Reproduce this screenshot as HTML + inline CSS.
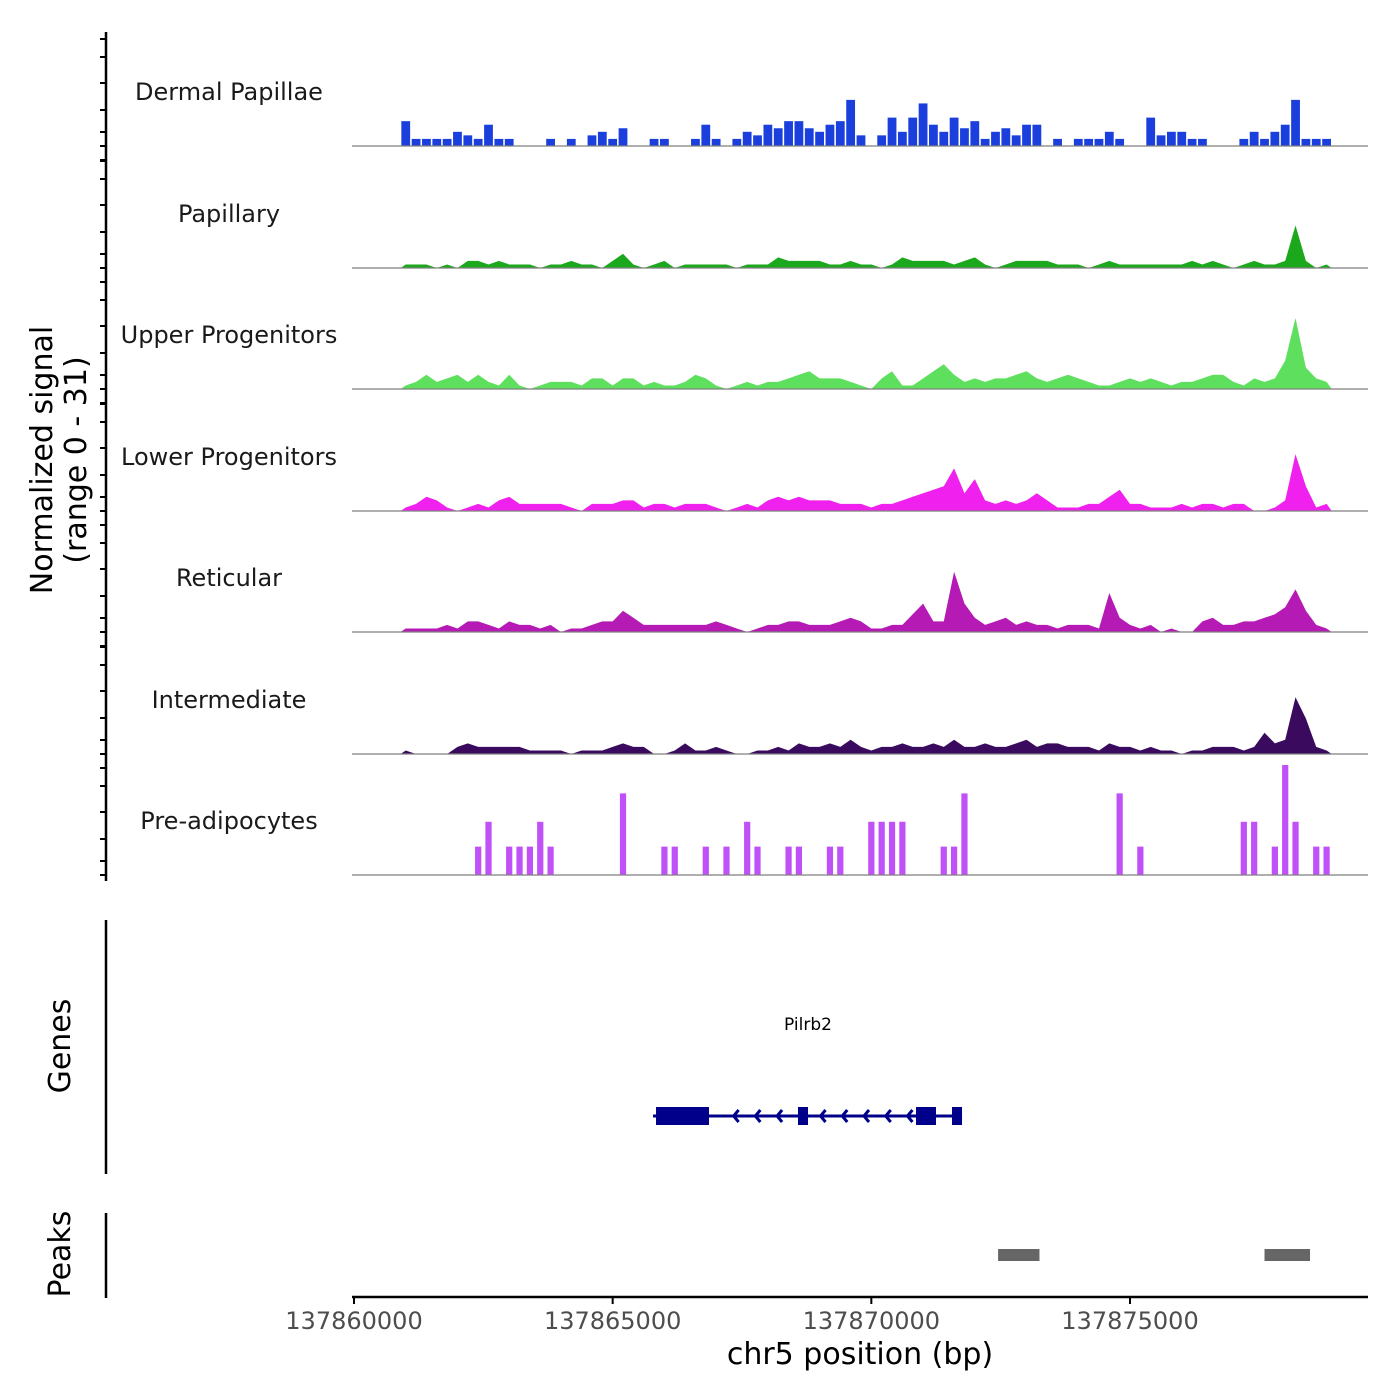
<!DOCTYPE html>
<html><head><meta charset="utf-8"><style>
body{margin:0;background:#fff}
svg{display:block;font-family:"DejaVu Sans","Liberation Sans",sans-serif}
</style></head><body>
<svg id="chart" width="1400" height="1400" viewBox="0 0 1400 1400"></svg>
<script>
const trackNames=["Dermal Papillae","Papillary","Upper Progenitors","Lower Progenitors","Reticular","Intermediate","Pre-adipocytes"];
const trackColors=["#1a3fdc","#1ca81c","#5ee05e","#f020ee","#b51ab5","#3a0a5e","#c050f8"];
const binStart=137860900;
const binSize=200;
const dermal=[7,2,2,2,2,4,3,2,6,2,2,0,0,0,2,0,2,0,3,4,2,5,0,0,2,2,0,0,2,6,2,0,2,4,3,6,5,7,7,5,4,6,7,13,3,0,3,8,4,8,12,6,4,8,5,7,2,4,5,3,6,6,0,2,0,2,2,2,4,2,0,0,8,3,4,4,2,2,0,0,0,2,4,2,4,6,13,2,2,2];
const papillary=[1,1,1,0,1,0,2,2,1,2,1,1,1,0,1,1,2,1,1,0,2,4,1,0,1,2,0,1,1,1,1,1,0,1,1,1,3,2,2,2,2,1,1,2,1,1,0,1,3,2,2,2,2,1,2,3,1,0,1,2,2,2,2,1,1,1,0,1,2,1,1,1,1,1,1,1,2,1,2,1,0,1,2,1,1,2,12,2,0,1];
const upper=[1,2,4,2,3,4,2,4,2,1,4,1,0,1,2,2,2,1,3,3,1,3,3,1,2,1,1,2,4,3,1,0,1,2,1,2,2,3,4,5,3,3,3,2,1,0,3,5,1,1,3,5,7,4,2,3,2,3,3,4,5,3,2,3,4,3,2,1,1,2,3,2,3,2,1,2,2,3,4,4,2,1,3,2,3,8,20,6,3,2];
const lower=[1,2,4,3,1,0,1,2,1,3,4,2,2,2,2,2,1,0,2,2,2,3,3,1,2,2,1,2,2,2,1,0,1,2,1,3,4,3,4,3,3,3,2,2,2,1,2,2,3,4,5,6,7,12,5,9,3,2,3,2,3,5,3,1,1,1,2,2,4,6,2,2,1,1,1,2,1,2,2,1,2,2,0,0,1,3,16,7,1,2];
const reticular=[1,1,1,1,2,1,3,3,2,1,3,2,2,1,2,0,1,1,2,3,3,6,4,2,2,2,2,2,2,2,3,2,1,0,1,2,2,3,3,2,2,2,3,4,3,1,1,2,2,5,8,3,3,17,8,4,2,3,4,2,3,2,2,1,2,2,2,1,11,4,2,1,2,0,1,0,0,3,4,2,2,3,3,4,5,7,12,6,2,1];
const intermediate=[1,0,0,0,0,2,3,2,2,2,2,2,1,1,1,1,0,1,1,1,2,3,2,2,0,0,1,3,1,1,2,1,0,0,1,1,2,1,3,2,2,3,2,4,2,1,2,2,3,2,2,3,2,4,2,2,3,2,2,3,4,2,3,3,2,2,2,1,3,2,2,1,2,1,1,0,1,1,2,2,2,1,2,6,3,4,16,10,2,1];
const preadipo=[0,0,0,0,0,0,0,8,15,0,8,8,8,15,8,0,0,0,0,0,0,23,0,0,0,8,8,0,0,8,0,8,0,15,8,0,0,8,8,0,0,8,8,0,0,15,15,15,15,0,0,0,8,8,23,0,0,0,0,0,0,0,0,0,0,0,0,0,0,23,0,8,0,0,0,0,0,0,0,0,0,15,15,0,8,31,15,0,8,8];
const tracks=[dermal,papillary,upper,lower,reticular,intermediate,preadipo];
const xTicks=[137860000,137865000,137870000,137875000];
const geneName="Pilrb2";
const geneStart=137865838, geneEnd=137871753;
const exonStarts=[137865838,137868582,137870863,137871559];
const exonEnds=[137866862,137868776,137871250,137871753];
const peakStarts=[137872450,137877600];
const peakEnds=[137873250,137878480];

const NS="http://www.w3.org/2000/svg";
const svg=document.getElementById('chart');
function mk(t,a,p){const e=document.createElementNS(NS,t);for(const k in a)e.setAttribute(k,a[k]);(p||svg).appendChild(e);return e;}
const xs=bp=>354+(bp-137860000)*(776/15000);
const yMax=31, trackH=110;
const baselines=[146,268,389,511,632,754,875];
const ys=(v,b)=>b-v/yMax*trackH;

let ax=mk('line',{x1:106,y1:32,x2:106,y2:881,stroke:'#000','stroke-width':2.5});

baselines.forEach(b=>{[-107,-89,-63,-36,-14,0,14].forEach(o=>{const y=b+o;if(y>=34&&y<=880)mk('line',{x1:100,y1:y,x2:106,y2:y,stroke:'#000','stroke-width':2});});});
let yl=mk('text',{x:0,y:0,'font-size':30,'text-anchor':'middle',transform:'translate(52,460) rotate(-90)'});
yl.textContent='Normalized signal';
let yl2=mk('text',{x:0,y:0,'font-size':30,'text-anchor':'middle',transform:'translate(86,460) rotate(-90)'});
yl2.textContent='(range 0 - 31)';

tracks.forEach((arr,t)=>{
  const b=baselines[t];
  const g=mk('g',{});
  
  
  const lab=mk('text',{x:229,y:b-46,'font-size':24,'text-anchor':'middle',fill:'#1a1a1a'},g);
  lab.textContent=trackNames[t];
  
  if(t===0||t===6){
    arr.forEach((v,i)=>{if(v<=0)return;
      const x0=xs(binStart+i*binSize), x1=xs(binStart+(i+1)*binSize);
      const w=(x1-x0)*(t===6?0.6:0.85);
      const r=mk('rect',{x:x0+(x1-x0-w)/2,y:ys(v,b),width:w,height:b-ys(v,b),fill:trackColors[t]},g);
      
    });
  } else {
    let d='M'+xs(binStart)+','+b;
    arr.forEach((v,i)=>{d+=' L'+xs(binStart+(i+0.5)*binSize).toFixed(1)+','+ys(v,b).toFixed(1);});
    d+=' L'+xs(binStart+arr.length*binSize)+','+b+' Z';
    const p=mk('path',{d:d,fill:trackColors[t]},g);
    
  }
  const bl=mk('line',{x1:352,y1:b,x2:1368,y2:b,stroke:'#7f7f7f','stroke-width':1.2},g);
  
});

let ga=mk('line',{x1:106,y1:920,x2:106,y2:1174,stroke:'#000','stroke-width':2.5});

let gt=mk('text',{x:0,y:0,'font-size':30,'text-anchor':'middle',transform:'translate(70,1046) rotate(-90)'});
gt.textContent='Genes';
const gg=mk('g',{});
const gl=mk('text',{x:808,y:1030,'font-size':17,'text-anchor':'middle',fill:'#000'},gg);gl.textContent=geneName;

mk('line',{x1:xs(geneStart)-3,y1:1116,x2:xs(geneEnd),y2:1116,stroke:'#00008b','stroke-width':3},gg);
for(let bp=geneStart+1500;bp<geneEnd-400;bp+=420){
  const x=xs(bp);
  mk('polyline',{points:`${x+5},${1110} ${x},${1116} ${x+5},${1122}`,fill:'none',stroke:'#00008b','stroke-width':3},gg);
}
exonStarts.forEach((s,i)=>{const r=mk('rect',{x:xs(s),y:1107,width:xs(exonEnds[i])-xs(s),height:18,fill:'#00008b'},gg);
  });

let pa=mk('line',{x1:106,y1:1213,x2:106,y2:1298,stroke:'#000','stroke-width':2.5});

let pt=mk('text',{x:0,y:0,'font-size':30,'text-anchor':'middle',transform:'translate(70,1254) rotate(-90)'});
pt.textContent='Peaks';
peakStarts.forEach((s,i)=>{const r=mk('rect',{x:xs(s),y:1249,width:xs(peakEnds[i])-xs(s),height:12,fill:'#666'});
  });

let xa=mk('line',{x1:352,y1:1297,x2:1368,y2:1297,stroke:'#000','stroke-width':2.5});

xTicks.forEach(v=>{const x=xs(v);
  mk('line',{x1:x,y1:1297,x2:x,y2:1304,stroke:'#000','stroke-width':2});
  const t=mk('text',{x:x,y:1329,'font-size':24,'text-anchor':'middle',fill:'#4d4d4d'});t.textContent=v;
  });
let xt=mk('text',{x:860,y:1364,'font-size':30,'text-anchor':'middle'});
xt.textContent='chr5 position (bp)';
</script>
</body></html>
